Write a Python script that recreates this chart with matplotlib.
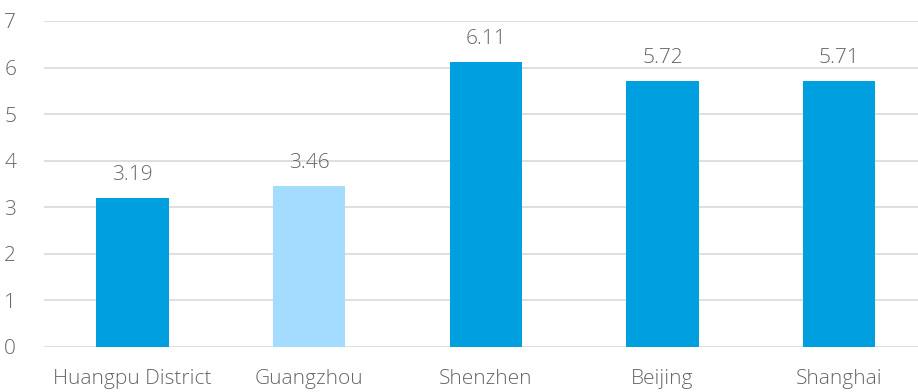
import matplotlib.pyplot as plt

cities = ['Huangpu District', 'Guangzhou', 'Shenzhen', 'Beijing', 'Shanghai']
values = [3.19, 3.46, 6.11, 5.72, 5.71]
colors = ['#009FDF', '#A3DCFF', '#009FDF', '#009FDF', '#009FDF']

plt.rcParams['font.family'] = ['Open Sans', 'DejaVu Sans']

fig = plt.figure(figsize=(9.18, 3.92), dpi=100)
ax = fig.add_axes([44 / 918, 1 - 347 / 392, (918 - 44) / 918, (347 - 21) / 392])

x = range(len(cities))
ax.bar(x, values, width=0.41, color=colors, zorder=3)
for i, v in enumerate(values):
    ax.text(i, v + 0.28, f'{v:.2f}', ha='center', va='bottom', fontsize=15,
            color='#666666', fontweight='light')

ax.set_ylim(0, 7)
ax.set_xlim(-0.5, (918 - 44) / 176.7 - 0.5)
ax.set_yticks(range(8))
ax.set_xticks(list(x))
ax.set_xticklabels(cities, fontweight='light')
for lbl in ax.get_yticklabels():
    lbl.set_fontweight('light')
ax.yaxis.grid(True, color='#D9D9D9', linewidth=1.2, zorder=0)
ax.tick_params(axis='both', length=0, labelsize=15, labelcolor='#666666')
ax.tick_params(axis='x', pad=16)
ax.tick_params(axis='y', pad=20)
for s in ax.spines.values():
    s.set_visible(False)

fig.savefig('out.png', dpi=100)
